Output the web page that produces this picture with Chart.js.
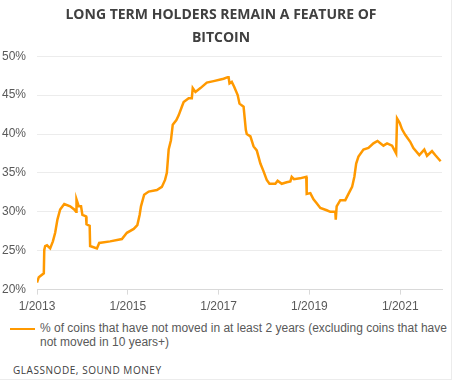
<!DOCTYPE html>
<html>
<head>
<meta charset="utf-8">
<script src="https://cdn.jsdelivr.net/npm/chart.js@4"></script>
<style>
  body { margin: 0; background: #fff; }
  #wrap { position: relative; width: 451px; height: 379px; border-right: 1px solid #ececec; border-bottom: 1px solid #ececec; background: #fff; }
  #chart { position: absolute; left: 0; top: 0; }
  #legend { position: absolute; left: 10px; top: 321px; width: 440px; font: 12px "Liberation Sans", Arial, sans-serif; color: #595959; line-height: 14px; }
  #legend .swatch { position: absolute; left: 0; top: 7px; width: 25px; height: 2px; background: #ff9900; }
  #legend .txt { margin-left: 30px; }
  #source { position: absolute; left: 13px; top: 363px; font: 500 10px "Open Sans", sans-serif; color: #404040; letter-spacing: 0.55px; }
</style>
</head>
<body>
<div id="wrap">
  <canvas id="chart" width="451" height="319"></canvas>
  <div id="legend"><span class="swatch"></span><div class="txt">% of coins that have not moved in at least 2 years (excluding coins that have not moved in 10 years+)</div></div>
  <div id="source">GLASSNODE, SOUND MONEY</div>
</div>
<script>
const titleLines = ["LONG TERM HOLDERS REMAIN A FEATURE OF", "BITCOIN"];
const seriesLabel = "% of coins that have not moved in at least 2 years (excluding coins that have not moved in 10 years+)";

// x as decimal year, y as percent
const years = [
  2013.00, 2013.04, 2013.15, 2013.16, 2013.18, 2013.22, 2013.29, 2013.35, 2013.40, 2013.45,
  2013.51, 2013.60, 2013.73, 2013.82, 2013.86, 2013.87, 2013.92, 2013.97, 2014.00, 2014.08,
  2014.09, 2014.16, 2014.17, 2014.32, 2014.37, 2014.61, 2014.87, 2014.98, 2015.13, 2015.21,
  2015.26, 2015.29, 2015.36, 2015.46, 2015.64, 2015.75, 2015.82, 2015.86, 2015.90, 2015.95,
  2015.99, 2016.07, 2016.12, 2016.19, 2016.23, 2016.34, 2016.41, 2016.43, 2016.49, 2016.60,
  2016.74, 2016.89, 2017.04, 2017.11, 2017.20, 2017.22, 2017.24, 2017.29, 2017.34, 2017.42,
  2017.46, 2017.55, 2017.60, 2017.62, 2017.70, 2017.77, 2017.84, 2017.92, 2017.99, 2018.06,
  2018.12, 2018.25, 2018.30, 2018.39, 2018.50, 2018.58, 2018.61, 2018.66, 2018.79, 2018.93,
  2018.94, 2019.02, 2019.09, 2019.16, 2019.24, 2019.38, 2019.46, 2019.57, 2019.58, 2019.60,
  2019.68, 2019.79, 2019.86, 2019.94, 2019.99, 2020.03, 2020.08, 2020.19, 2020.30, 2020.41,
  2020.50, 2020.63, 2020.71, 2020.82, 2020.91, 2020.93, 2020.99, 2021.04, 2021.11, 2021.22,
  2021.29, 2021.42, 2021.53, 2021.59, 2021.70, 2021.77, 2021.89
];
const pctValues = [
  20.9, 21.6, 22.1, 25.1, 25.6, 25.7, 25.3, 26.2, 27.3, 29.0,
  30.3, 31.0, 30.7, 30.3, 30.0, 31.6, 30.7, 30.7, 29.6, 29.4,
  28.4, 28.2, 25.6, 25.3, 26.0, 26.2, 26.5, 27.3, 27.8, 28.3,
  29.6, 30.7, 32.2, 32.6, 32.8, 33.2, 34.1, 35.0, 38.0, 39.2,
  41.2, 41.8, 42.4, 43.5, 44.1, 44.6, 44.6, 45.9, 45.4, 45.9,
  46.6, 46.8, 47.0, 47.1, 47.3, 47.3, 46.5, 46.7, 46.1, 45.0,
  43.9, 43.5, 40.5, 40.0, 39.7, 38.4, 37.9, 36.2, 35.2, 34.1,
  33.6, 33.6, 34.0, 33.6, 33.8, 33.9, 34.5, 34.2, 34.3, 34.5,
  32.3, 32.4, 31.6, 31.1, 30.5, 30.2, 30.0, 30.0, 29.0, 30.7,
  31.5, 31.5, 32.3, 33.2, 34.5, 36.2, 37.1, 38.0, 38.2, 38.8,
  39.1, 38.5, 38.8, 38.5, 37.5, 42.0, 41.4, 40.6, 39.9, 39.0,
  38.2, 37.3, 38.0, 37.2, 37.8, 37.3, 36.5
];
const xTickYears = [2013, 2015, 2017, 2019, 2021];
const xTickLabels = ["1/2013", "1/2015", "1/2017", "1/2019", "1/2021"];

const points = years.map((x, i) => ({ x: x, y: pctValues[i] }));

const ctx = document.getElementById("chart").getContext("2d");
new Chart(ctx, {
    type: "line",
    data: {
        datasets: [{
            label: seriesLabel,
            data: points,
            borderColor: "#ff9900",
            borderWidth: 2.5,
            pointRadius: 0,
            tension: 0,
            fill: false
        }]
    },
    options: {
        responsive: false,
        animation: false,
        layout: { padding: { left: 0, right: 9, top: 0, bottom: 0 } },
        plugins: {
            legend: { display: false },
            tooltip: { enabled: false },
            title: {
                display: true,
                text: titleLines,
                color: "#404040",
                font: { family: "'Open Sans', sans-serif", size: 14, weight: "700", lineHeight: 1.65 },
                padding: { top: 3, bottom: 7 }
            }
        },
        scales: {
            x: {
                type: "linear",
                min: 2013,
                max: 2021.92,
                afterBuildTicks: s => { s.ticks = xTickYears.map(v => ({ value: v })); },
                ticks: {
                    color: "#595959",
                    font: { family: "'Liberation Sans', Arial, sans-serif", size: 12 },
                    maxRotation: 0,
                    padding: 5,
                    callback: v => xTickLabels[xTickYears.indexOf(v)]
                },
                grid: { drawOnChartArea: false, drawTicks: true, tickLength: 5, color: "#d9d9d9" },
                border: { color: "#d9d9d9" }
            },
            y: {
                min: 20,
                max: 50,
                afterFit: s => { s.width = 37; },
                ticks: {
                    stepSize: 5,
                    color: "#595959",
                    font: { family: "'Liberation Sans', Arial, sans-serif", size: 12 },
                    padding: 11,
                    callback: v => v + "%"
                },
                grid: { color: "#ececec", drawTicks: false },
                border: { display: false }
            }
        }
    }
});
</script>
</body>
</html>
